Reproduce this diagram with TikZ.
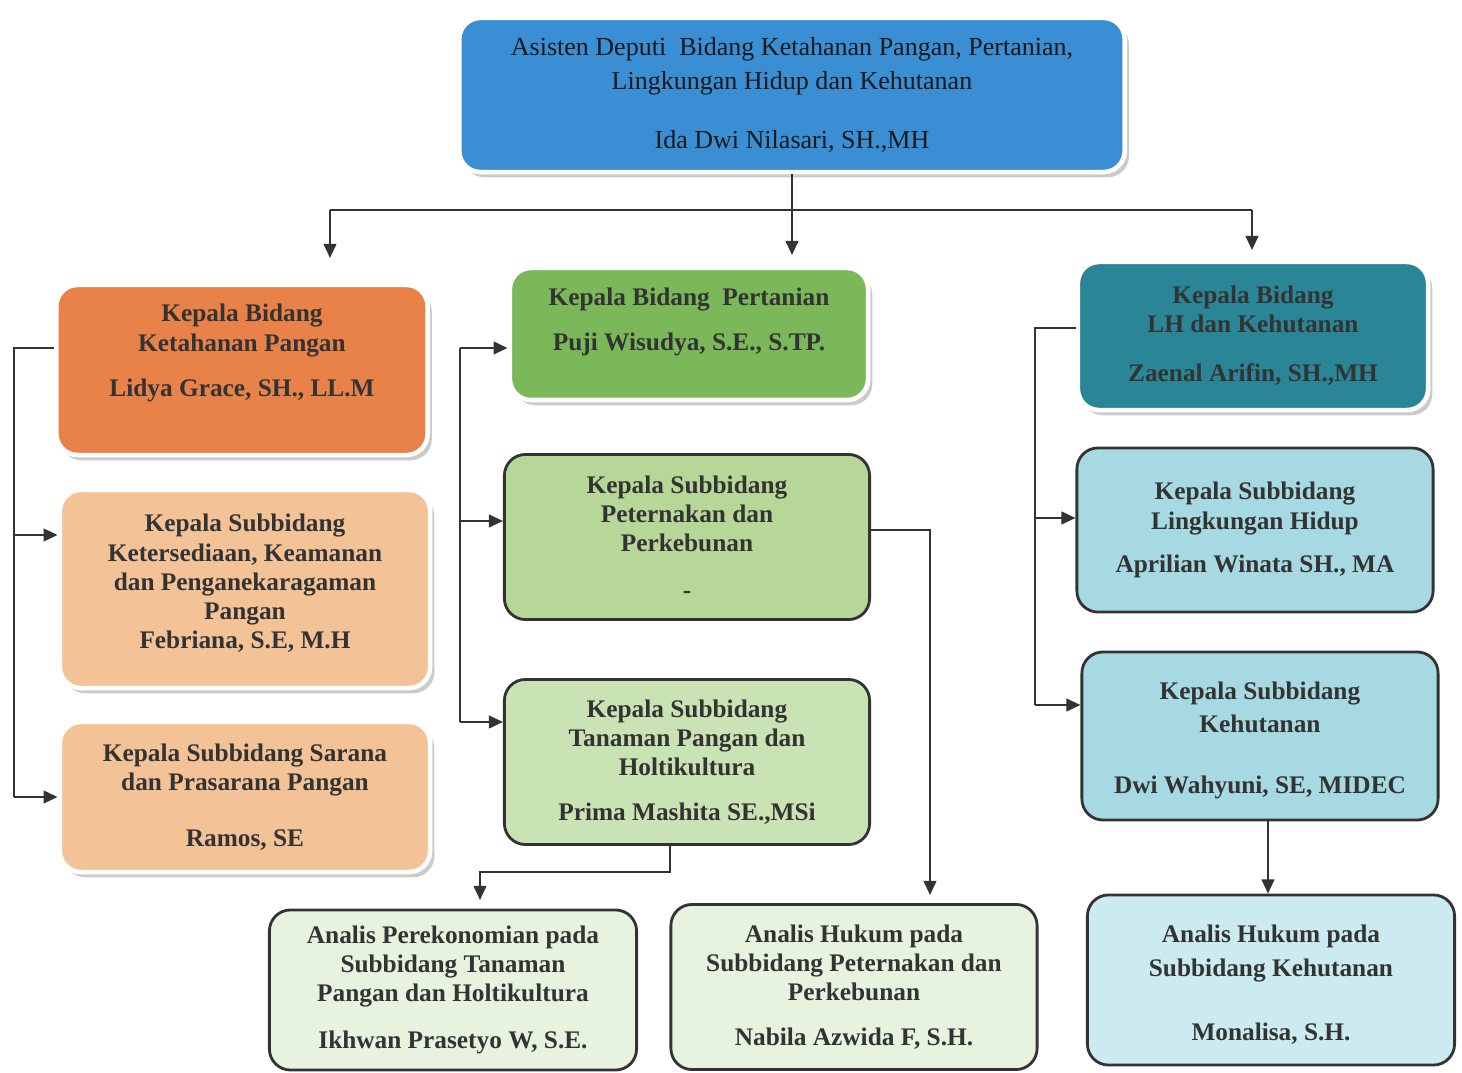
\documentclass[tikz,border=0pt]{standalone}
\usepackage{fontspec}
\setmainfont{Liberation Serif}
\usepackage{tikz}
\usetikzlibrary{arrows.meta}
\usetikzlibrary{shadows}

\definecolor{deputiblue}{RGB}{58,142,212}
\definecolor{pangandark}{RGB}{232,130,72}
\definecolor{panganlight}{RGB}{243,194,150}
\definecolor{tanidark}{RGB}{122,184,90}
\definecolor{tanimid}{RGB}{182,215,152}
\definecolor{tanilight}{RGB}{202,227,180}
\definecolor{tanipale}{RGB}{231,243,223}
\definecolor{hutandark}{RGB}{42,134,150}
\definecolor{hutanlight}{RGB}{166,217,225}
\definecolor{hutanpale}{RGB}{203,235,240}

\begin{document}
\begin{tikzpicture}[x=0.01cm, y=-0.01cm,
        box/.style={rounded corners=6pt, align=center, inner sep=2pt, text=black!80,
            font=\fontsize{7.2}{8.3}\selectfont\bfseries},
        glowbox/.style={box, draw=white, line width=1.3pt,
            drop shadow={shadow xshift=1.2pt, shadow yshift=-1.5pt, opacity=0.45, fill=black!45}},
        linebox/.style={box, draw=black!80, line width=0.8pt},
        conn/.style={draw=black!80, line width=0.6pt},
        arr/.style={conn, -{Triangle[length=4pt, width=3.6pt]}}]
        \useasboundingbox (0,0) rectangle (1462,1073);

        \node[glowbox, fill=deputiblue, text=black!90, font=\fontsize{7.4}{9.6}\selectfont,
            minimum width=6.65cm, minimum height=1.54cm] (deputi) at (792,95)
            {Asisten Deputi \ Bidang Ketahanan Pangan, Pertanian,\\
             Lingkungan Hidup dan Kehutanan\\[7pt] Ida Dwi Nilasari, SH.,MH};

        \node[glowbox, fill=pangandark, minimum width=3.71cm, minimum height=1.7cm] (kbkp) at (242,370)
            {Kepala Bidang\\ Ketahanan Pangan\\[4.5pt] Lidya Grace, SH., LL.M\\[3pt]\mbox{}};
        \node[glowbox, fill=panganlight, minimum width=3.7cm, minimum height=1.98cm] (ks1) at (245,589)
            {Kepala Subbidang\\ Ketersediaan, Keamanan\\ dan Penganekaragaman\\ Pangan\\ Febriana, S.E, M.H\\[-4pt]\mbox{}};
        \node[glowbox, fill=panganlight, minimum width=3.7cm, minimum height=1.5cm] (ks2) at (245,797)
            {Kepala Subbidang Sarana\\ dan Prasarana Pangan\\[7.5pt] Ramos, SE};

        \node[glowbox, fill=tanidark, minimum width=3.58cm, minimum height=1.32cm] (kbp) at (689,334)
            {Kepala Bidang \ Pertanian\\[4.5pt] Puji Wisudya, S.E., S.TP.\\[0pt]\mbox{}};
        \node[linebox, fill=tanimid, minimum width=3.65cm, minimum height=1.65cm] (ksp) at (687,537)
            {Kepala Subbidang\\ Peternakan dan\\ Perkebunan\\[5pt] -};
        \node[linebox, fill=tanilight, minimum width=3.65cm, minimum height=1.65cm] (kst) at (687,762)
            {Kepala Subbidang\\ Tanaman Pangan dan\\ Holtikultura\\[4.5pt] Prima Mashita SE.,MSi};

        \node[glowbox, fill=hutandark, minimum width=3.5cm, minimum height=1.48cm] (kblh) at (1253,336)
            {Kepala Bidang\\ LH dan Kehutanan\\[5.6pt] Zaenal Arifin, SH.,MH};
        \node[linebox, fill=hutanlight, minimum width=3.56cm, minimum height=1.64cm] (kslh) at (1255,530)
            {Kepala Subbidang\\ Lingkungan Hidup\\[4pt] Aprilian Winata SH., MA};
        \node[linebox, fill=hutanlight, font=\fontsize{7.2}{9.4}\selectfont\bfseries,
            minimum width=3.56cm, minimum height=1.68cm] (ksk) at (1260,736)
            {\mbox{}\\[-2pt] Kepala Subbidang\\ Kehutanan\\[8pt] Dwi Wahyuni, SE, MIDEC};

        \node[linebox, fill=tanipale, minimum width=3.67cm, minimum height=1.6cm] (a1) at (453,990)
            {Analis Perekonomian pada\\ Subbidang Tanaman\\ Pangan dan Holtikultura\\[5pt] Ikhwan Prasetyo W, S.E.};
        \node[linebox, fill=tanipale, minimum width=3.66cm, minimum height=1.65cm] (a2) at (854,987)
            {Analis Hukum pada\\ Subbidang Peternakan dan\\ Perkebunan\\[4.5pt] Nabila Azwida F, S.H.};
        \node[linebox, fill=hutanpale, font=\fontsize{7.2}{9.6}\selectfont\bfseries,
            minimum width=3.67cm, minimum height=1.7cm] (a3) at (1271,980)
            {\mbox{}\\[-2pt] Analis Hukum pada\\ Subbidang Kehutanan\\[8.5pt] Monalisa, S.H.};

        \coordinate (jl) at (330,210);
        \coordinate (jm) at (792,210);
        \coordinate (jr) at (1252,210);
        \draw[conn] (deputi.south) -- (jm);
        \draw[conn] (jl) -- (jr);
        \foreach \c/\y in {jl/258, jm/255, jr/250} {
            \draw[arr] (\c) -- (\c |- 0,\y);
        }

        \draw[conn] (kbkp.west |- 0,348) -- (14,348) -- (14,797);
        \foreach \n/\y in {ks1/535, ks2/797} {
            \draw[arr] (14,\y) -- (\n.west |- 0,\y);
        }

        \draw[conn] (460,348) -- (460,722);
        \foreach \n/\y in {kbp/348, ksp/521, kst/722} {
            \draw[arr] (460,\y) -- (\n.west |- 0,\y);
        }
        \draw[arr] (ksp.east |- 0,530) -| (930,895);
        \draw[arr] (kst.south -| 670,0) -- (670,872) -| (480,900);

        \draw[conn] (kblh.west |- 0,328) -- (1035,328) -- (1035,705);
        \foreach \n/\y in {kslh/518, ksk/705} {
            \draw[arr] (1035,\y) -- (\n.west |- 0,\y);
        }
        \draw[arr] (ksk.south -| 1268,0) -- (a3.north -| 1268,0);
    \end{tikzpicture}
\end{document}
